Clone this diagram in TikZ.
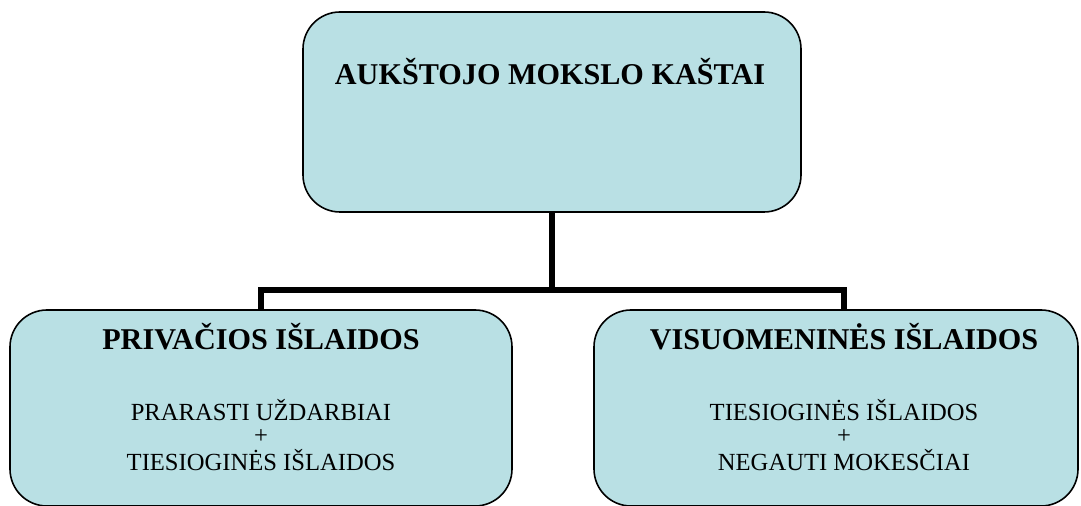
\documentclass[tikz,border=0pt]{standalone}
\usepackage{fontspec}
\setmainfont{Liberation Serif}
\definecolor{boxfill}{RGB}{185,224,228}
\tikzset{
  box/.style={draw=black, line width=0.8pt, fill=boxfill, rounded corners=18.5pt, inner sep=0pt},
  conn/.style={line width=2.6pt},
  head/.style={font=\bfseries\fontsize{15.1}{18}\selectfont, inner sep=0pt, anchor=base},
  body/.style={font=\fontsize{12.3}{14}\selectfont, inner sep=0pt, anchor=base},
}
\begin{document}
\begin{tikzpicture}[x=0.5pt,y=-0.5pt]
\useasboundingbox (0,0) rectangle (1081,506);
\clip (0,0) rectangle (1081,506);
\fill[white] (0,0) rectangle (1081,506);
\node[box, minimum width=249pt, minimum height=100pt] (top) at (552,112) {};
\node[box, minimum width=251pt, minimum height=98pt] (L) at (261,408) {};
\node[box, minimum width=242pt, minimum height=98pt] (R) at (836,408) {};
\node[head] (topt) at (550,85) {AUKŠTOJO MOKSLO KAŠTAI};
\node[head] (Lh) at (261,350) {PRIVAČIOS IŠLAIDOS};
\node[body] (L1) at (261,421) {PRARASTI UŽDARBIAI};
\node[body] (L2) at (261,444) {+};
\node[body] (L3) at (261,471) {TIESIOGINĖS IŠLAIDOS};
\node[head] (Rh) at (844,350) {VISUOMENINĖS IŠLAIDOS};
\node[body] (R1) at (844,421) {TIESIOGINĖS IŠLAIDOS};
\node[body] (R2) at (844,444) {+};
\node[body] (R3) at (844,471) {NEGAUTI MOKESČIAI};
\coordinate (j) at (552,290);
\coordinate (lt) at (261,310);
\coordinate (rt) at (844,310);
\draw[conn] (top.south) -- (j);
\draw[conn] (lt) |- (j) -| (rt);
\end{tikzpicture}
\end{document}
